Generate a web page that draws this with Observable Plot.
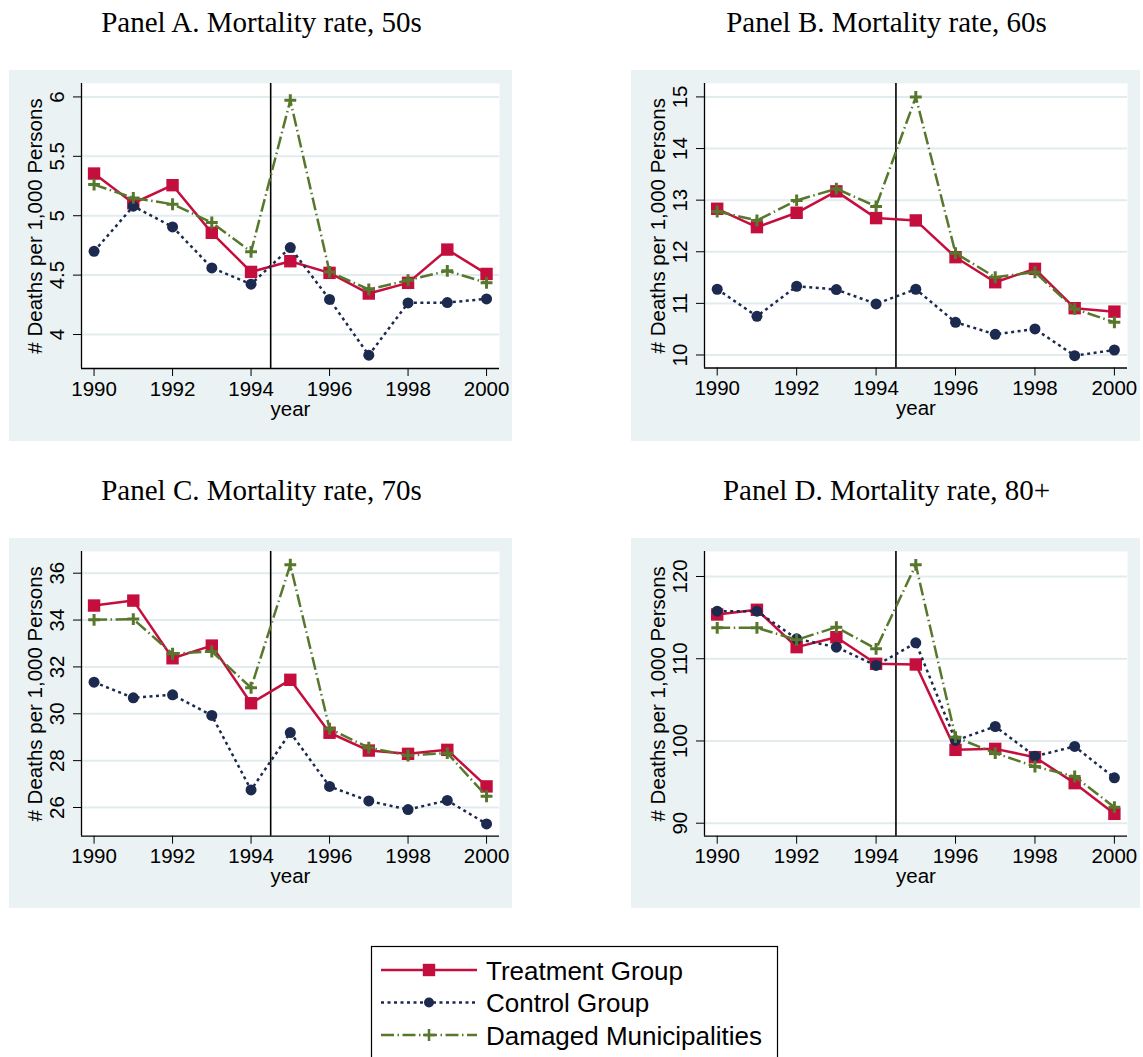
<!DOCTYPE html>
<html><head><meta charset="utf-8">
<script src="https://cdn.jsdelivr.net/npm/d3@7"></script>
<script src="https://cdn.jsdelivr.net/npm/@observablehq/plot@0.6"></script>
<style>
body{margin:0;background:#fff;}
#root{position:relative;width:1143px;height:1057px;overflow:hidden;background:#fff;}
.panel{position:absolute;}
#overlay{position:absolute;left:0;top:0;}
</style></head><body><div id="root"></div>
<script>
// ---------- data ----------
const years = [1990,1991,1992,1993,1994,1995,1996,1997,1998,1999,2000];
const seriesNames = ["Treatment Group","Control Group","Damaged Municipalities"];
const panelTitles = ["Panel A. Mortality rate, 50s","Panel B. Mortality rate, 60s","Panel C. Mortality rate, 70s","Panel D. Mortality rate, 80+"];
const yAxisLabel = "# Deaths per 1,000 Persons";
const xAxisLabel = "year";
const xTicks = [1990,1992,1994,1996,1998,2000];
const eventYear = 1994.5;

const yTicksA = [4,4.5,5,5.5,6];
const yTicksB = [10,11,12,13,14,15];
const yTicksC = [26,28,30,32,34,36];
const yTicksD = [90,100,110,120];

const treatmentA = [5.355,5.105,5.257,4.856,4.527,4.617,4.519,4.345,4.435,4.715,4.51];
const controlA   = [4.70,5.08,4.906,4.561,4.424,4.732,4.295,3.826,4.266,4.269,4.30];
const damagedA   = [5.262,5.15,5.097,4.943,4.696,5.972,4.527,4.379,4.457,4.536,4.435];

const treatmentB = [12.833,12.477,12.755,13.17,12.652,12.607,11.895,11.41,11.669,10.906,10.84];
const controlB   = [11.274,10.75,11.332,11.268,10.99,11.274,10.634,10.40,10.504,9.987,10.097];
const damagedB   = [12.781,12.607,12.995,13.221,12.878,15.0,11.973,11.507,11.604,10.893,10.634];

const treatmentC = [34.62,34.83,32.37,32.91,30.45,31.45,29.19,28.43,28.29,28.46,26.9];
const controlC   = [31.35,30.68,30.81,29.93,26.75,29.2,26.9,26.28,25.91,26.3,25.3];
const damagedC   = [34.01,34.04,32.56,32.66,31.11,36.36,29.36,28.55,28.22,28.32,26.48];

const treatmentD = [115.38,115.95,111.41,112.62,109.38,109.3,98.92,99.04,98.03,94.87,91.14];
const controlD   = [115.78,115.78,112.42,111.41,109.18,111.93,100.06,101.76,98.15,99.33,95.52];
const damagedD   = [113.76,113.76,112.3,113.84,111.2,121.42,100.46,98.52,96.9,95.68,91.95];

// ---------- styles ----------
const bgColor = "#eaf2f3";
const gridColor = "#e2ebee";
const colors = ["#c40f3e","#1b2a4e","#57782c"];
const dashes = [null,"3,3.5","13,3.5,1.5,3.5"];
const symbols = ["square","circle","plus"];
const radii = [7,5.5,3.9];
const sansFont = "'Liberation Sans', Arial, Helvetica, sans-serif";
const serifFont = "'Liberation Serif', 'Times New Roman', serif";

const panels = [
  {title: panelTitles[0], vals:[treatmentA,controlA,damagedA], ticks:yTicksA, ydom:[3.714,6.113], left:9, top:70, w:503, h:371, ml:72, mb:73},
  {title: panelTitles[1], vals:[treatmentB,controlB,damagedB], ticks:yTicksB, ydom:[9.748,15.26], left:631, top:70, w:509, h:371, ml:73, mb:73.5},
  {title: panelTitles[2], vals:[treatmentC,controlC,damagedC], ticks:yTicksC, ydom:[24.775,36.926], left:9, top:538, w:503, h:370, ml:72, mb:72.3},
  {title: panelTitles[3], vals:[treatmentD,controlD,damagedD], ticks:yTicksD, ydom:[88.42,123.04], left:631, top:538, w:509, h:370, ml:73, mb:72.3}
];
const xDomain = [1989.68, 2000.33];

const root = document.getElementById("root");

// overlay for titles and legend
const overlay = d3.select(root).append("svg").attr("id","overlay")
  .attr("width",1143).attr("height",1057);

panels.forEach(p => {
  const marks = [
    Plot.frame({fill:"white", stroke:"none"}),
    Plot.gridY(p.ticks, {stroke:gridColor, strokeOpacity:1, strokeWidth:2}),
    Plot.ruleX([eventYear], {stroke:"black", strokeWidth:1.6})
  ];
  p.vals.forEach((vals, i) => {
    const d = years.map((yr, j) => ({year: yr, value: vals[j], series: seriesNames[i]}));
    marks.push(Plot.line(d, {x:"year", y:"value", stroke:colors[i], strokeWidth:2.5,
      strokeDasharray: dashes[i] || undefined, strokeLinecap:"butt", strokeLinejoin:"round"}));
    if (symbols[i] === "plus") {
      marks.push(Plot.dot(d, {x:"year", y:"value", symbol:"plus", r:radii[i], fill:"none", stroke:colors[i], strokeWidth:3}));
    } else {
      marks.push(Plot.dot(d, {x:"year", y:"value", symbol:symbols[i], r:radii[i], fill:colors[i], stroke:"none"}));
    }
  });
  marks.push(
    Plot.ruleX([xDomain[0]], {stroke:"black", strokeWidth:1.3}),
    Plot.ruleY([p.ydom[0]], {stroke:"black", strokeWidth:1.3}),
    Plot.axisX({ticks:xTicks, tickFormat:d => String(d), tickSize:8, tickPadding:4.5, label:null, fontSize:20.5}),
    Plot.axisY({ticks:p.ticks, tickFormat:d => String(d), tickSize:8, tickPadding:10, tickRotate:-90, label:null, fontSize:20.5}),
    Plot.text([yAxisLabel], {frameAnchor:"left", dx:-39.5, rotate:-90, textAnchor:"middle", lineAnchor:"bottom", fontSize:20.5, fill:"black"}),
    Plot.text([xAxisLabel], {frameAnchor:"bottom", dy:47, textAnchor:"middle", lineAnchor:"bottom", fontSize:20.5, fill:"black"})
  );
  const chart = Plot.plot({
    width: p.w, height: p.h,
    marginLeft: p.ml, marginRight: 13, marginTop: 13, marginBottom: p.mb,
    x: {domain: xDomain},
    y: {domain: p.ydom},
    style: {background: bgColor, fontFamily: sansFont, fontSize: "20.5px", color: "black", overflow: "visible"},
    marks
  });
  const div = document.createElement("div");
  div.className = "panel";
  div.style.left = p.left + "px";
  div.style.top = p.top + "px";
  div.appendChild(chart);
  root.appendChild(div);

  overlay.append("text")
    .attr("x", p.left + p.w / 2 + 1).attr("y", p.top - 38)
    .attr("text-anchor","middle")
    .attr("font-family", serifFont).attr("font-size", 29)
    .attr("fill","black").text(p.title);
});

// legend
const lg = overlay.append("g");
lg.append("rect").attr("x",371.5).attr("y",946.5).attr("width",406).attr("height",130)
  .attr("fill","white").attr("stroke","black").attr("stroke-width",1.2);
seriesNames.forEach((name, i) => {
  const y = 970 + i * 32.5;
  lg.append("line").attr("x1",381).attr("x2",477).attr("y1",y).attr("y2",y)
    .attr("stroke",colors[i]).attr("stroke-width",2.5)
    .attr("stroke-dasharray", dashes[i] || null);
  const sym = symbols[i] === "square" ? d3.symbolSquare : symbols[i] === "circle" ? d3.symbolCircle : d3.symbolPlus;
  const r = i === 1 ? 5 : radii[i];
  const path = lg.append("path").attr("transform",`translate(429,${y})`)
    .attr("d", d3.symbol(sym, Math.PI * r * r)());
  if (symbols[i] === "plus") path.attr("fill","none").attr("stroke",colors[i]).attr("stroke-width",2.5);
  else path.attr("fill",colors[i]);
  lg.append("text").attr("x",486).attr("y",y + 9.5)
    .attr("font-family", sansFont).attr("font-size",26).attr("fill","black").text(name);
});
</script></body></html>
